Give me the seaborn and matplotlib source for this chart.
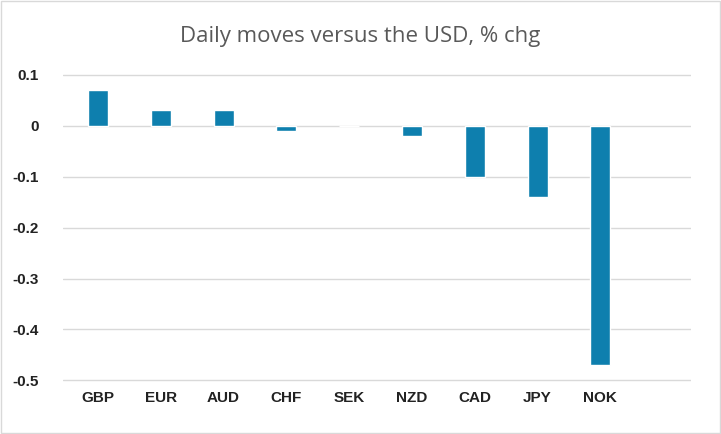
import matplotlib
matplotlib.use("Agg")
import matplotlib.pyplot as plt
import seaborn as sns
import pandas as pd

currencies = ["GBP", "EUR", "AUD", "CHF", "SEK", "NZD", "CAD", "JPY", "NOK"]
moves = [0.07, 0.03, 0.03, -0.01, 0.0, -0.02, -0.10, -0.14, -0.47]
yticks = [0.1, 0, -0.1, -0.2, -0.3, -0.4, -0.5]
ytick_labels = ["0.1", "0", "-0.1", "-0.2", "-0.3", "-0.4", "-0.5"]

sns.set_style("white")
plt.rcParams['font.family'] = ['Liberation Sans', 'DejaVu Sans']

fig = plt.figure(figsize=(7.21, 4.34), dpi=100)
ax = fig.add_axes([0.088, 0.12, 0.871, 0.709])
df = pd.DataFrame({"ccy": currencies, "chg": moves})
sns.barplot(data=df, x="ccy", y="chg", color="#0E7FAE", width=0.32, saturation=1, ax=ax, zorder=3)
ax.set_xlim(-0.55, 9.45)
ax.set_ylim(-0.503, 0.101)
ax.set_yticks(yticks)
ax.set_yticklabels(ytick_labels, fontsize=11, fontweight="bold", color="#222222")
ax.grid(axis="y", color="#D9D9D9", lw=1, zorder=0)
for s in ax.spines.values():
    s.set_visible(False)
ax.set_xticks([])
ax.set_xlabel(""); ax.set_ylabel("")
for i, c in enumerate(currencies):
    ax.text(i, -0.535, c, ha="center", va="center", fontsize=11, fontweight="bold", color="#222222")
ax.tick_params(axis="y", length=0, pad=18)
fig.text(0.5, 0.915, "Daily moves versus the USD, % chg", ha="center", va="center", fontsize=16, color="#595959",
         family=["Open Sans", "DejaVu Sans"])
fig.patches.append(plt.Rectangle((0.001, 0.002), 0.997, 0.996, transform=fig.transFigure, fill=False, ec="#D9D9D9", lw=1))
fig.savefig("out.png", dpi=100)
